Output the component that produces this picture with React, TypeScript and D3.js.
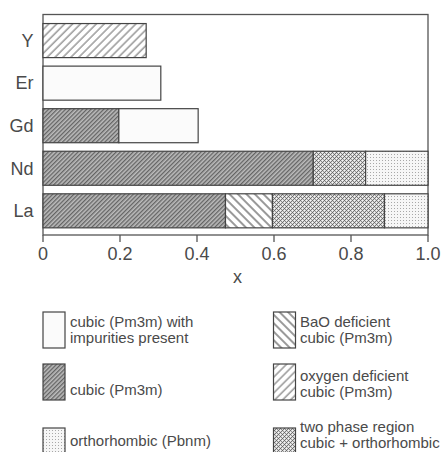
import React from "react";
import * as d3 from "d3";

const categories = ["Y", "Er", "Gd", "Nd", "La"];
const cubic = [0, 0, 0.197, 0.702, 0.474];
const baoDeficient = [0, 0, 0, 0, 0.122];
const oxygenDeficient = [0.268, 0, 0, 0, 0];
const impurities = [0, 0.306, 0.206, 0, 0];
const twoPhase = [0, 0, 0, 0.136, 0.291];
const orthorhombic = [0, 0, 0, 0.162, 0.113];
const xTicks = [0, 0.2, 0.4, 0.6, 0.8, 1.0];
const xTickLabels = ["0", "0.2", "0.4", "0.6", "0.8", "1.0"];

const phaseKeys = ["cubic", "bao", "oxygen", "impurities", "twoPhase", "ortho"];
const phaseSeries: Record<string, number[]> = {
  cubic,
  bao: baoDeficient,
  oxygen: oxygenDeficient,
  impurities,
  twoPhase,
  ortho: orthorhombic,
};

const legendLeft = [
  { key: "impurities", lines: ["cubic (Pm3m) with", "impurities present"] },
  { key: "cubic", lines: ["cubic (Pm3m)"] },
  { key: "ortho", lines: ["orthorhombic (Pbnm)"] },
];
const legendRight = [
  { key: "bao", lines: ["BaO deficient", "cubic (Pm3m)"] },
  { key: "oxygen", lines: ["oxygen deficient", "cubic (Pm3m)"] },
  { key: "twoPhase", lines: ["two phase region", "cubic + orthorhombic"] },
];

const fills: Record<string, string> = {
  cubic: "url(#pCubic)",
  bao: "url(#pBao)",
  oxygen: "url(#pOxy)",
  impurities: "#fbfbfb",
  twoPhase: "url(#pTwo)",
  ortho: "url(#pOrtho)",
};

export default function App() {
  const W = 441, H = 452;
  const left = 43, right = 428, top = 14.5, bottom = 235;
  const x = d3.scaleLinear().domain([0, 1]).range([left, right]);
  const y = d3
    .scaleBand<string>()
    .domain(categories)
    .range([19.3, 232.1])
    .paddingInner(0.2)
    .paddingOuter(0.1);

  const table = categories.map((c, i) => {
    const row: any = { cat: c };
    phaseKeys.forEach((k) => (row[k] = phaseSeries[k][i]));
    return row;
  });
  const stacked = d3.stack<any>().keys(phaseKeys)(table);

  const ink = "#4a4a4a";
  const font = "'Liberation Sans', Arial, Helvetica, sans-serif";

  const rowTops = [312, 364, 428];
  const leftBaselines = [[327, 343], [395], [446]];
  const rightBaselines = [[327, 343], [381, 397], [432, 448]];

  return (
    <svg
      width={W}
      height={H}
      style={{ position: "absolute", left: 0, top: 0, background: "#fff" }}
      fontFamily={font}
    >
      <defs>
        <pattern id="pCubic" patternUnits="userSpaceOnUse" width={3} height={3} patternTransform="rotate(45)">
          <rect width={3} height={3} fill="#bcbcbc" />
          <line x1={0.7} y1={0} x2={0.7} y2={3} stroke="#5a5a5a" strokeWidth={1.2} />
        </pattern>
        <pattern id="pBao" patternUnits="userSpaceOnUse" width={6} height={6} patternTransform="rotate(-45)">
          <rect width={6} height={6} fill="#fff" />
          <line x1={1} y1={0} x2={1} y2={6} stroke="#555" strokeWidth={1.2} />
        </pattern>
        <pattern id="pOxy" patternUnits="userSpaceOnUse" width={5.6} height={5.6} patternTransform="rotate(45)">
          <rect width={5.6} height={5.6} fill="#fff" />
          <line x1={1} y1={0} x2={1} y2={5.6} stroke="#666" strokeWidth={1} />
        </pattern>
        <pattern id="pTwo" patternUnits="userSpaceOnUse" width={4} height={4}>
          <rect width={4} height={4} fill="#d8d8d8" />
          <rect x={0} y={0} width={1} height={1} fill="#666" />
          <rect x={1} y={1} width={1} height={1} fill="#888" />
          <rect x={2} y={2} width={1} height={1} fill="#666" />
          <rect x={3} y={1} width={1} height={1} fill="#777" />
          <rect x={1} y={3} width={1} height={1} fill="#777" />
          <rect x={3} y={3} width={1} height={1} fill="#999" />
          <rect x={2} y={0} width={1} height={1} fill="#f4f4f4" />
          <rect x={0} y={2} width={1} height={1} fill="#f4f4f4" />
        </pattern>
        <pattern id="pOrtho" patternUnits="userSpaceOnUse" width={3} height={3}>
          <rect width={3} height={3} fill="#f6f6f6" />
          <rect x={1} y={1} width={1} height={1} fill="#a8a8a8" />
        </pattern>
      </defs>

      {/* frame */}
      <rect
        x={left}
        y={top}
        width={right - left}
        height={bottom - top}
        fill="none"
        stroke="#555"
        strokeWidth={1.3}
      />

      {/* bars */}
      {stacked.map((layer) =>
        layer.map((d, i) => {
          const w = x(d[1]) - x(d[0]);
          if (w <= 0) return null;
          return (
            <rect
              key={layer.key + i}
              x={x(d[0])}
              y={y(categories[i])}
              width={w}
              height={y.bandwidth()}
              fill={fills[layer.key]}
              stroke="#444"
              strokeWidth={1.2}
            />
          );
        })
      )}

      {/* category labels */}
      {categories.map((c) => (
        <text
          key={c}
          x={33.5}
          y={(y(c) as number) + y.bandwidth() / 2}
          dy="0.35em"
          textAnchor="end"
          fontSize={18}
          fill={ink}
        >
          {c}
        </text>
      ))}

      {/* x ticks */}
      {xTicks.map((t, i) => (
        <g key={t}>
          <line x1={x(t)} x2={x(t)} y1={bottom} y2={bottom + 7} stroke="#555" strokeWidth={1.3} />
          <text x={x(t)} y={260} textAnchor="middle" fontSize={18} fill={ink}>
            {xTickLabels[i]}
          </text>
        </g>
      ))}
      <text x={(left + right) / 2 + 2} y={283} textAnchor="middle" fontSize={18} fill={ink}>
        x
      </text>

      {/* legend */}
      {legendLeft.map((item, r) => (
        <g key={item.key}>
          <rect x={43} y={rowTops[r]} width={22} height={36} fill={fills[item.key]} stroke="#444" strokeWidth={1.2} />
          {item.lines.map((ln, j) => (
            <text key={j} x={70} y={leftBaselines[r][j]} fontSize={15} fill={ink}>
              {ln}
            </text>
          ))}
        </g>
      ))}
      {legendRight.map((item, r) => (
        <g key={item.key}>
          <rect x={273.5} y={rowTops[r]} width={22} height={36} fill={fills[item.key]} stroke="#444" strokeWidth={1.2} />
          {item.lines.map((ln, j) => (
            <text key={j} x={300} y={rightBaselines[r][j]} fontSize={15} fill={ink}>
              {ln}
            </text>
          ))}
        </g>
      ))}
    </svg>
  );
}
